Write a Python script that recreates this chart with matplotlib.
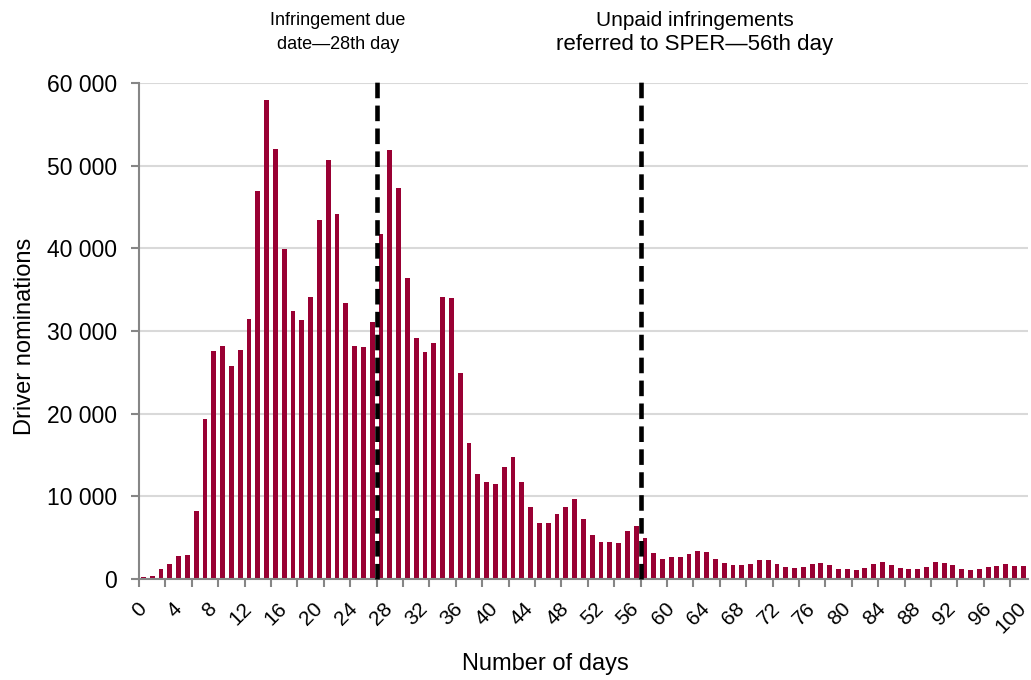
import matplotlib
matplotlib.use('Agg')
import matplotlib.pyplot as plt
import numpy as np

# Driver nominations by number of days after the offence (day 0 .. 100)
days = list(range(0, 101))
nominations = [
    200, 350, 1250, 1850, 2820, 2940, 8260, 19330, 27630, 28230,
    25820, 27670, 31450, 46960, 57950, 52030, 39870, 32460, 31290, 34150,
    43460, 50700, 44180, 33350, 28150, 28030, 31130, 41680, 51910, 47320,
    36370, 29200, 27510, 28550, 34150, 33990, 24930, 16430, 12650, 11680,
    11480, 13570, 14700, 11760, 8740, 6770, 6770, 7850, 8700, 9670,
    7250, 5280, 4470, 4430, 4350, 5800, 6440, 4950, 3120, 2470,
    2630, 2670, 3080, 3440, 3280, 2430, 1940, 1660, 1660, 1820,
    2310, 2350, 1780, 1500, 1340, 1500, 1820, 1940, 1700, 1210,
    1170, 1130, 1340, 1780, 2110, 1700, 1300, 1210, 1210, 1460,
    2110, 1900, 1700, 1260, 1130, 1210, 1420, 1580, 1820, 1580,
    1580,
]
tick_days = list(range(0, 101, 4))
y_ticks = [0, 10000, 20000, 30000, 40000, 50000, 60000]
y_labels = ['0', '10 000', '20 000', '30 000', '40 000', '50 000', '60 000']

# marker lines sit between bars
due_line = 26.5
sper_line = 56.5
due_text = ['Infringement due', 'date\u201428th day']
sper_text = ['Unpaid infringements', 'referred to SPER\u201456th day']

plt.rcParams['font.family'] = ['Liberation Sans', 'DejaVu Sans']

fig = plt.figure(figsize=(10.31, 6.8), dpi=100)
ax = fig.add_axes([0.1348, 0.1485, 0.862, 0.7295])

bar_color = '#990033'
ax.bar(days, nominations, width=0.55, color=bar_color, zorder=2)

ax.set_xlim(-0.5, 100.5)
ax.set_ylim(0, 60000)

# gridlines and axes
ax.set_yticks(y_ticks)
ax.set_yticklabels(y_labels, fontsize=16.5)
ax.yaxis.grid(True, color='#d9d9d9', linewidth=1.5, zorder=0)
ax.set_axisbelow(True)
for side in ['top', 'right']:
    ax.spines[side].set_visible(False)
for side in ['left', 'bottom']:
    ax.spines[side].set_color('#868686')
    ax.spines[side].set_linewidth(1.5)
ax.tick_params(axis='y', length=6, width=1.5, color='#868686', pad=10)

# labels every 4 days, tick marks every 3 bars (as in the original)
ax.set_xticks(tick_days)
ax.set_xticklabels([str(d) for d in tick_days], fontsize=15, rotation=45,
                   ha='right', va='center', rotation_mode='anchor')
ax.tick_params(axis='x', which='major', length=0, pad=19)
ax.set_xticks(np.arange(-0.5, 101, 3), minor=True)
ax.tick_params(axis='x', which='minor', length=6, width=1.5, color='#868686')

fig.text(545 / 1031, 1 - 664 / 680, 'Number of days', fontsize=17,
         ha='center', va='center')
fig.text(25 / 1031, 1 - 336 / 680, 'Driver nominations', fontsize=17,
         rotation=90, ha='center', va='center')

# dashed reference lines, going a little above the plot area
for xv in [due_line, sper_line]:
    ax.plot([xv, xv], [0, 61000], color='black', linewidth=3.3,
            linestyle=(0, (3.4, 1.6)), zorder=4, clip_on=False)

ax.text(22.1, 67600, due_text[0], ha='center', va='center', fontsize=13)
ax.text(22.1, 64600, due_text[1], ha='center', va='center', fontsize=13)
ax.text(62.7, 67600, sper_text[0], ha='center', va='center', fontsize=15)
ax.text(62.6, 64600, sper_text[1], ha='center', va='center', fontsize=16)

fig.savefig('out.png', dpi=100)
plt.close(fig)
